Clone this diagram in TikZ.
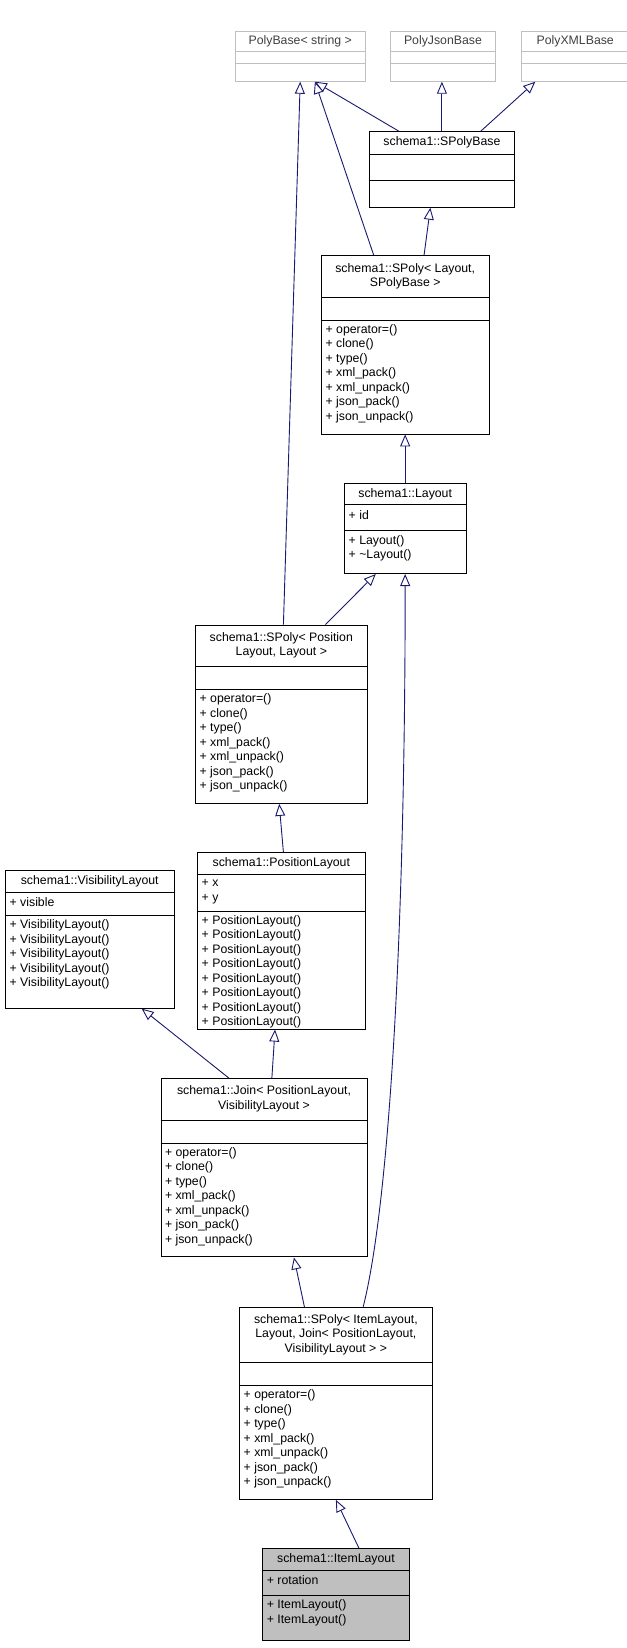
\documentclass[tikz,border=0pt]{standalone}
\usepackage{fontspec}
\setmainfont{Liberation Sans}
\usetikzlibrary{arrows.meta}
\definecolor{edgec}{RGB}{25,25,112}
\definecolor{lgray}{RGB}{191,191,191}
\tikzset{
 cls/.style={draw=black, fill=white, line width=0.9pt, inner sep=0},
 clsline/.style={draw=black, line width=0.9pt},
 gcls/.style={draw=lgray, fill=white, line width=0.9pt, inner sep=0},
 gclsline/.style={draw=lgray, line width=0.9pt},
 icls/.style={draw=black, fill=lgray, line width=0.9pt, inner sep=0},
 iclsline/.style={draw=black, line width=0.9pt},
 ttl/.style={align=center, inner sep=0, font=\fontsize{12.3}{14.5}\selectfont},
 mem/.style={align=left, inner sep=0, anchor=north west, font=\fontsize{12.3}{14.5}\selectfont},
 edge/.style={draw=edgec, line width=0.9pt, -{Triangle[open, length=12pt, width=10pt, fill=white]}},
}
\newcommand\umlclass[9]{%
 \node[#8, minimum width={(#4-#2)*1.05pt}, minimum height={(#5-#3)*1.05pt}, anchor=north west] (#1) at (#2,#3) {};
 \draw[#8line] (#2,#6) -- (#4,#6) (#2,#7) -- (#4,#7);
 \node[ttl] (#1-t) at ({(#2+#4)/2},{(#3+#6)/2}) {#9};
}
\begin{document}
\begin{tikzpicture}[x=1.05pt,y=-1.05pt]
\useasboundingbox (0,0) rectangle (597,1570);
\umlclass{pb}{224}{30}{348}{77}{49}{60}{gcls}{\textcolor{darkgray}{PolyBase< string >}}
\umlclass{pj}{372}{30}{472}{77}{49}{60}{gcls}{\textcolor{darkgray}{PolyJsonBase}}
\umlclass{px}{496}{30}{600}{77}{49}{60}{gcls}{\textcolor{darkgray}{PolyXMLBase}}
\umlclass{spb}{352}{125}{490}{197}{147}{172}{cls}{schema1::SPolyBase}
\umlclass{spl}{306}{243}{466}{413}{283}{305}{cls}{schema1::SPoly< Layout,\\SPolyBase >}
\node[mem] (spl-m) at (310,309) {+ operator=()\\+ clone()\\+ type()\\+ xml\_pack()\\+ xml\_unpack()\\+ json\_pack()\\+ json\_unpack()};
\umlclass{lay}{328}{460}{444}{546}{481}{505}{cls}{schema1::Layout}
\node[mem] (lay-a) at (332,486) {+ id};
\node[mem] (lay-m) at (332,510) {+ Layout()\\+ \textasciitilde Layout()};
\umlclass{spp}{186}{595}{350}{765}{635}{657}{cls}{schema1::SPoly< Position\\Layout, Layout >}
\node[mem] (spp-m) at (190,661) {+ operator=()\\+ clone()\\+ type()\\+ xml\_pack()\\+ xml\_unpack()\\+ json\_pack()\\+ json\_unpack()};
\umlclass{pos}{188}{812}{348}{980}{833}{868}{cls}{schema1::PositionLayout}
\node[mem] (pos-a) at (192,838) {+ x\\+ y};
\node[mem] (pos-m) at (192,872) {+ PositionLayout()\\+ PositionLayout()\\+ PositionLayout()\\+ PositionLayout()\\+ PositionLayout()\\+ PositionLayout()\\+ PositionLayout()\\+ PositionLayout()};
\umlclass{vis}{5}{829}{166}{960}{850}{872}{cls}{schema1::VisibilityLayout}
\node[mem] (vis-a) at (9,855) {+ visible};
\node[mem] (vis-m) at (9,876) {+ VisibilityLayout()\\+ VisibilityLayout()\\+ VisibilityLayout()\\+ VisibilityLayout()\\+ VisibilityLayout()};
\umlclass{join}{153}{1027}{350}{1197}{1067}{1089}{cls}{schema1::Join< PositionLayout,\\VisibilityLayout >}
\node[mem] (join-m) at (157,1093) {+ operator=()\\+ clone()\\+ type()\\+ xml\_pack()\\+ xml\_unpack()\\+ json\_pack()\\+ json\_unpack()};
\umlclass{spi}{228}{1245}{412}{1428}{1298}{1320}{cls}{schema1::SPoly< ItemLayout,\\Layout, Join< PositionLayout,\\VisibilityLayout > >}
\node[mem] (spi-m) at (232,1324) {+ operator=()\\+ clone()\\+ type()\\+ xml\_pack()\\+ xml\_unpack()\\+ json\_pack()\\+ json\_unpack()};
\umlclass{item}{250}{1475}{390}{1562}{1496}{1520}{icls}{schema1::ItemLayout}
\node[mem] (item-a) at (254,1501) {+ rotation};
\node[mem] (item-m) at (254,1524) {+ ItemLayout()\\+ ItemLayout()};
% edges
\draw[edge] ([xshift=28*1.05pt]spb.north west) -- ([xshift=76*1.05pt]pb.south west);
\draw[edge] ([xshift=69*1.05pt]spb.north west) -- ([xshift=49*1.05pt]pj.south west);
\draw[edge] ([xshift=106*1.05pt]spb.north west) -- ([xshift=14*1.05pt]px.south west);
\draw[edge] ([xshift=50*1.05pt]spl.north west) -- ([xshift=76*1.05pt]pb.south west);
\draw[edge] ([xshift=98*1.05pt]spl.north west) -- ([xshift=58*1.05pt]spb.south west);
\draw[edge] ([xshift=58*1.05pt]lay.north west) -- ([xshift=80*1.05pt]spl.south west);
\draw[edge] ([xshift=84*1.05pt]spp.north west) -- ([xshift=62*1.05pt]pb.south west);
\draw[edge] ([xshift=124*1.05pt]spp.north west) -- ([xshift=30*1.05pt]lay.south west);
\draw[edge] ([xshift=82*1.05pt]pos.north west) -- ([xshift=80*1.05pt]spp.south west);
\draw[edge] ([xshift=65*1.05pt]join.north west) -- ([xshift=130*1.05pt]vis.south west);
\draw[edge] ([xshift=106*1.05pt]join.north west) -- ([xshift=74*1.05pt]pos.south west);
\draw[edge] ([xshift=62*1.05pt]spi.north west) -- ([xshift=127*1.05pt]join.south west);
\draw[edge] ([xshift=118*1.05pt]spi.north west) .. controls (370,1150) and (386,900) .. ([xshift=58*1.05pt]lay.south west);
\draw[edge] ([xshift=92*1.05pt]item.north west) -- ([xshift=92*1.05pt]spi.south west);
\end{tikzpicture}
\end{document}
